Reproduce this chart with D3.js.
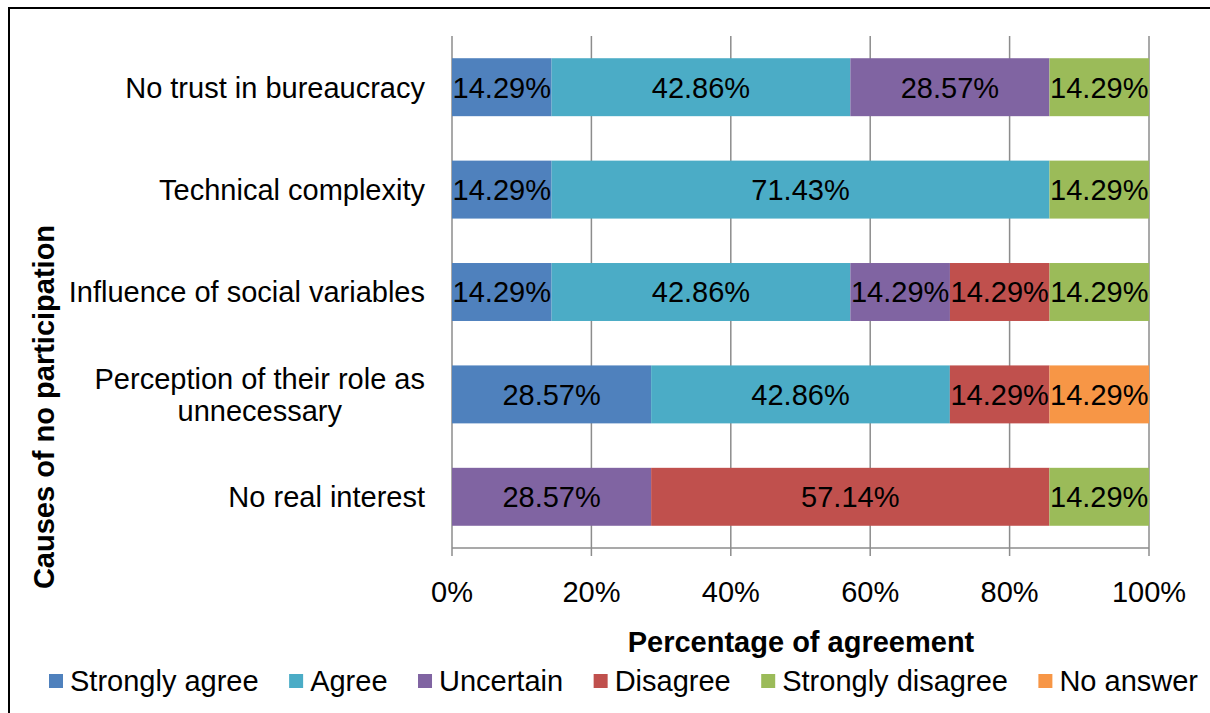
<!DOCTYPE html>
<html><head><meta charset="utf-8">
<script src="https://cdn.jsdelivr.net/npm/d3@7"></script>
<style>
body{margin:0;background:#fff;}
text{font-family:"Liberation Sans",Arial,sans-serif;fill:#000;}
</style></head>
<body><svg id="c" width="1210" height="713"></svg>
<script>
const categories = ["No trust in bureaucracy","Technical complexity","Influence of social variables","Perception of their role as unnecessary","No real interest"];
const seriesNames = ["Strongly agree","Agree","Uncertain","Disagree","Strongly disagree","No answer"];
const stronglyAgree    = [14.29, 14.29, 14.29, 28.57, 0];
const agree            = [42.86, 71.43, 42.86, 42.86, 0];
const uncertain        = [28.57, 0, 14.29, 0, 28.57];
const disagree         = [0, 0, 14.29, 14.29, 57.14];
const stronglyDisagree = [14.29, 14.29, 14.29, 0, 14.29];
const noAnswer         = [0, 0, 0, 14.29, 0];
const xTicks = [0, 20, 40, 60, 80, 100];
const colors = ["#4F81BD","#4BACC6","#8064A2","#C0504D","#9BBB59","#F79646"];

const seriesVals = [stronglyAgree, agree, uncertain, disagree, stronglyDisagree, noAnswer];
const rows = categories.map((c,i)=>{const o={cat:c}; seriesNames.forEach((s,j)=>o[s]=seriesVals[j][i]); return o;});
const stack = d3.stack().keys(seriesNames)(rows);

const svg = d3.select("#c");
const L=452, R=1149, T=36, B=548;
const x = d3.scaleLinear().domain([0,100]).range([L,R]);
const y = d3.scaleBand().domain(categories).range([T,B]).paddingInner(0.434).paddingOuter(0.217);

// frame
svg.append("rect").attr("x",9).attr("y",8).attr("width",1260).attr("height",760)
  .attr("fill","none").attr("stroke","#000").attr("stroke-width",2);

// gridlines
svg.append("g").selectAll("line").data(xTicks).join("line")
  .attr("x1",d=>x(d)).attr("x2",d=>x(d)).attr("y1",T).attr("y2",B+8)
  .attr("stroke","#8c8c8c").attr("stroke-width",1.5);
svg.append("line").attr("x1",L).attr("x2",R).attr("y1",B).attr("y2",B).attr("stroke","#8c8c8c").attr("stroke-width",1.5);

// bars
const g = svg.append("g");
stack.forEach((layer,j)=>{
  g.selectAll(null).data(layer.filter(d=>d[1]-d[0]>0)).join("rect")
    .attr("x",d=>x(d[0])).attr("width",d=>x(d[1])-x(d[0]))
    .attr("y",d=>y(d.data.cat)).attr("height",y.bandwidth())
    .attr("fill",colors[j]);
});
stack.forEach((layer,j)=>{
  g.selectAll(null).data(layer.filter(d=>d[1]-d[0]>0)).join("text")
    .attr("x",d=>(x(d[0])+x(d[1]))/2).attr("y",d=>y(d.data.cat)+y.bandwidth()/2)
    .attr("dy","0.36em").attr("text-anchor","middle").style("font-size","29px")
    .text(d=>(d[1]-d[0]).toFixed(2)+"%");
});

// x tick labels
svg.append("g").selectAll("text").data(xTicks).join("text")
  .attr("x",d=>x(d)).attr("y",592).attr("dy","0.36em").attr("text-anchor","middle")
  .style("font-size","29px").text(d=>d+"%");

// category labels with wrapping
const cl = svg.append("g");
categories.forEach(c=>{
  const t = cl.append("text").attr("text-anchor","middle").style("font-size","29px");
  const words = c.split(" "); let lines=[]; let cur=[];
  const probe = svg.append("text").style("font-size","29px");
  words.forEach(w=>{const test=cur.concat([w]).join(" "); probe.text(test);
    if(probe.node().getComputedTextLength()>380 && cur.length){lines.push(cur.join(" ")); cur=[w];} else cur.push(w);});
  lines.push(cur.join(" "));
  let maxW=0; lines.forEach(l=>{probe.text(l); maxW=Math.max(maxW,probe.node().getComputedTextLength());});
  probe.remove();
  const cx = 425 - maxW/2;
  const cy = y(c)+y.bandwidth()/2;
  const lh = 32;
  lines.forEach((l,i)=>{
    t.append("tspan").attr("x",cx).attr("y",cy+(i-(lines.length-1)/2)*lh).attr("dy","0.36em").text(l);
  });
});

// axis titles
svg.append("text").attr("x",801).attr("y",642).attr("dy","0.36em").attr("text-anchor","middle")
  .style("font-size","29px").style("font-weight","bold").text("Percentage of agreement");
svg.append("text").attr("transform","translate(44,407) rotate(-90)").attr("dy","0.36em").attr("text-anchor","middle")
  .style("font-size","29px").style("font-weight","bold").text("Causes of no participation");

// legend
const lg = svg.append("g");
let lx = 49;
seriesNames.forEach((s,j)=>{
  lg.append("rect").attr("x",lx).attr("y",674).attr("width",14).attr("height",14).attr("fill",colors[j]);
  const t = lg.append("text").attr("x",lx+21).attr("y",681).attr("dy","0.36em").style("font-size","29px").text(s);
  lx += 21 + t.node().getComputedTextLength() + 30.5;
});
</script></body></html>
